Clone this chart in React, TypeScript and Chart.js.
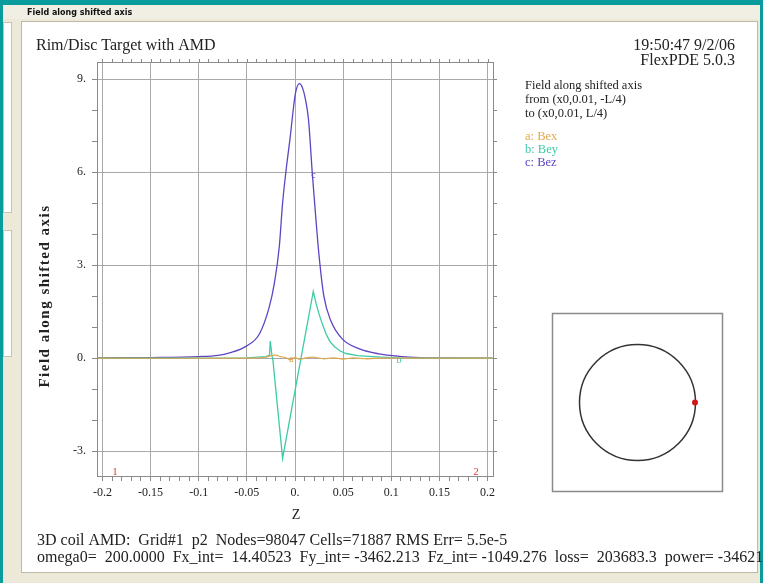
import React, { useEffect, useRef } from "react";
import { Chart, registerables } from "chart.js";

Chart.register(...registerables);

// ---- data ----
const zBez = [-0.205, -0.15, -0.1, -0.08, -0.068, -0.051, -0.037, -0.027, -0.0215, -0.0163, -0.0129, -0.0093, -0.0049, -0.0015, 0.0005, 0.0045, 0.008, 0.0105, 0.014, 0.018, 0.0218, 0.025, 0.03, 0.037, 0.049, 0.067, 0.087, 0.108, 0.13, 0.16, 0.205];
const bez = [0.01, 0.02, 0.05, 0.09, 0.17, 0.38, 0.78, 1.62, 2.4, 3.6, 5.0, 6.05, 7.15, 8.1, 8.55, 8.85, 8.7, 8.4, 7.7, 5.95, 4.45, 3.3, 2.0, 1.22, 0.62, 0.3, 0.14, 0.06, 0.02, 0.01, 0.0];

const zBey = [-0.205, -0.1, -0.05, -0.03, -0.0265, -0.0257, -0.024, -0.023, -0.0129, 0.019, 0.022, 0.025, 0.029, 0.032, 0.036, 0.041, 0.047, 0.053, 0.065, 0.08, 0.105, 0.15, 0.205];
const bey = [0.0, 0.0, 0.01, 0.05, 0.1, 0.55, 0.1, -0.05, -3.23, 2.15, 1.75, 1.42, 1.05, 0.8, 0.55, 0.37, 0.23, 0.15, 0.08, 0.05, 0.01, 0.0, 0.0];

const zBex = [-0.205, -0.05, -0.03, -0.025, -0.02, -0.015, -0.01, -0.005, 0.0, 0.005, 0.01, 0.02, 0.03, 0.04, 0.05, 0.06, 0.075, 0.09, 0.205];
const bex = [0.0, 0.0, 0.03, 0.08, 0.1, 0.05, 0.02, -0.05, 0.02, -0.04, 0.0, 0.03, -0.02, 0.01, -0.03, 0.01, -0.02, 0.0, 0.0];

const xTickLabels = ["-0.2", "-0.15", "-0.1", "-0.05", "0.", "0.05", "0.1", "0.15", "0.2"];
const yTickLabels = ["-3.", "0.", "3.", "6.", "9."];

const seriesNames = ["a: Bex", "b: Bey", "c: Bez"];
const BEX_C = "#E2A84C";
const BEY_C = "#3DCBA6";
const BEZ_C = "#6044C4";

const SERIF = "'Liberation Serif', 'Times New Roman', serif";

const decorPlugin = {
  id: "decor",
  beforeDraw(chart: any) {
    const c = chart.ctx;
    const W = chart.width, H = chart.height;
    c.save();
    c.fillStyle = "#0A9C9C";
    c.fillRect(0, 0, W, H);
    c.fillStyle = "#ECE9D8";
    c.fillRect(3, 5, W - 6, H - 5);
    c.fillStyle = "#F1EFE4";
    c.fillRect(3, 5, W - 6, 14);
    c.fillStyle = "#FFFFFF";
    c.fillRect(3, 22, 8, 190);
    c.fillRect(3, 230, 8, 126);
    c.strokeStyle = "#C8C4B4";
    c.lineWidth = 1;
    c.strokeRect(3.5, 22.5, 8, 190);
    c.strokeRect(3.5, 230.5, 8, 126);
    c.fillStyle = "#FFFFFF";
    c.fillRect(22, 22, W - 22 - 6, 550);
    c.strokeStyle = "#BDB9A8";
    c.strokeRect(21.5, 21.5, W - 22 - 5, 551);
    c.fillStyle = "#111";
    c.font = "bold 8px 'DejaVu Sans', sans-serif";
    c.textBaseline = "middle";
    c.textAlign = "left";
    c.fillText("Field along shifted axis", 27, 13);
    c.restore();
  },
  afterDraw(chart: any) {
    const c = chart.ctx;
    const a = chart.chartArea;
    const xs = chart.scales.x;
    const ys = chart.scales.y;
    c.save();
    c.strokeStyle = "#8A8A8A";
    c.lineWidth = 1;
    c.strokeRect(Math.round(a.left) + 0.5, Math.round(a.top) + 0.5, Math.round(a.right - a.left), Math.round(a.bottom - a.top));
    c.beginPath();
    for (let i = -20; i <= 20; i++) {
      const px = Math.round(xs.getPixelForValue(i / 100)) + 0.5;
      c.moveTo(px, a.top);
      c.lineTo(px, a.top - 3);
    }
    for (let v = -3; v <= 9; v++) {
      const py = Math.round(ys.getPixelForValue(v)) + 0.5;
      c.moveTo(a.right, py);
      c.lineTo(a.right + 4, py);
    }
    c.stroke();

    c.textBaseline = "middle";
    c.fillStyle = "#222";
    c.textAlign = "left";
    c.font = `16px ${SERIF}`;
    c.fillText("Rim/Disc Target with AMD", 36, 46);
    c.textAlign = "right";
    c.fillText("19:50:47 9/2/06", 735, 46);
    c.fillText("FlexPDE 5.0.3", 735, 61);

    c.textAlign = "left";
    c.font = `12.5px ${SERIF}`;
    c.fillStyle = "#222";
    c.fillText("Field along shifted axis", 525, 86);
    c.fillText("from (x0,0.01, -L/4)", 525, 100);
    c.fillText("to (x0,0.01, L/4)", 525, 114);
    const lc = [BEX_C, BEY_C, BEZ_C];
    seriesNames.forEach((n, i) => {
      c.fillStyle = lc[i];
      c.fillText(n, 525, 137 + i * 13);
    });

    c.font = `10px ${SERIF}`;
    c.textAlign = "center";
    c.fillStyle = BEZ_C;
    c.fillText("c", xs.getPixelForValue(0.0193), ys.getPixelForValue(5.9));
    c.fillStyle = BEY_C;
    c.fillText("b", xs.getPixelForValue(0.108), ys.getPixelForValue(-0.06));
    c.fillStyle = BEX_C;
    c.fillText("a", xs.getPixelForValue(-0.004), ys.getPixelForValue(-0.04));

    c.fillStyle = "#E03A3A";
    c.font = `11px ${SERIF}`;
    c.fillText("1", 115, 472);
    c.fillText("2", 476, 472);

    c.fillStyle = "#222";
    c.font = `14px ${SERIF}`;
    c.fillText("Z", 296, 515);
    c.save();
    c.translate(45, 296);
    c.rotate(-Math.PI / 2);
    c.font = `bold 15px ${SERIF}`;
    (c as any).letterSpacing = "1.5px";
    c.textAlign = "center";
    c.fillText("Field along shifted axis", 0, 0);
    c.restore();

    c.textAlign = "left";
    c.fillStyle = "#222";
    c.font = `16px ${SERIF}`;
    c.fillText("3D coil AMD:  Grid#1  p2  Nodes=98047 Cells=71887 RMS Err= 5.5e-5", 37, 541);
    c.fillText("omega0=  200.0000  Fx_int=  14.40523  Fy_int= -3462.213  Fz_int= -1049.276  loss=  203683.3  power= -34621", 37, 558);

    c.strokeStyle = "#8A8A8A";
    c.lineWidth = 1.5;
    c.strokeRect(552.5, 313.5, 170, 178);
    c.strokeStyle = "#333";
    c.lineWidth = 1.5;
    c.beginPath();
    c.arc(637.5, 402.5, 58, 0, Math.PI * 2);
    c.stroke();
    c.fillStyle = "#D01818";
    c.beginPath();
    c.arc(695, 402.5, 3, 0, Math.PI * 2);
    c.fill();
    c.restore();
  },
};

export default function App() {
  const ref = useRef<HTMLCanvasElement | null>(null);
  useEffect(() => {
    if (!ref.current) return;
    const mk = (zs: number[], vs: number[]) => zs.map((z, i) => ({ x: z, y: vs[i] }));
    const chart = new Chart(ref.current, {
      type: "line",
      data: {
        datasets: [
          { label: "Bex", data: mk(zBex, bex), borderColor: BEX_C, borderWidth: 1.2, pointRadius: 0, tension: 0.3 },
          { label: "Bey", data: mk(zBey, bey), borderColor: BEY_C, borderWidth: 1.3, pointRadius: 0, tension: 0 },
          { label: "Bez", data: mk(zBez, bez), borderColor: BEZ_C, borderWidth: 1.3, pointRadius: 0, cubicInterpolationMode: "monotone" },
        ],
      } as any,
      options: {
        animation: false,
        responsive: false,
        devicePixelRatio: 1,
        layout: { padding: { left: 37, right: 270, top: 62, bottom: 57 } },
        plugins: { legend: { display: false }, tooltip: { enabled: false } },
        scales: {
          x: {
            type: "linear",
            min: -0.2057,
            max: 0.2057,
            afterBuildTicks: (s: any) => {
              const t = [];
              for (let i = -20; i <= 20; i++) t.push({ value: i / 100 });
              s.ticks = t;
            },
            afterFit: (s: any) => { s.height = 50; },
            ticks: {
              autoSkip: false,
              maxRotation: 0,
              minRotation: 0,
              padding: 5,
              color: "#222",
              font: { family: SERIF, size: 12 },
              callback: (v: any) => {
                const i = Math.round(Number(v) * 100);
                return i % 5 === 0 ? xTickLabels[i / 5 + 4] : "";
              },
            },
            grid: {
              color: (ctx: any) => (Math.round(ctx.tick.value * 100) % 5 === 0 ? "#A9A9A9" : "rgba(0,0,0,0)"),
              tickColor: "#8A8A8A",
              tickLength: 5,
              lineWidth: 1,
            },
            border: { display: true, color: "#8A8A8A" },
          },
          y: {
            type: "linear",
            min: -3.8,
            max: 9.55,
            afterBuildTicks: (s: any) => {
              const t = [];
              for (let v = -3; v <= 9; v++) t.push({ value: v });
              s.ticks = t;
            },
            afterFit: (s: any) => { s.width = 60; },
            ticks: {
              autoSkip: false,
              padding: 6,
              color: "#222",
              font: { family: SERIF, size: 12 },
              callback: (v: any) => {
                const n = Math.round(Number(v));
                return n % 3 === 0 ? yTickLabels[(n + 3) / 3] : "";
              },
            },
            grid: {
              color: (ctx: any) => (Math.round(ctx.tick.value) % 3 === 0 ? "#A9A9A9" : "rgba(0,0,0,0)"),
              tickColor: "#8A8A8A",
              tickLength: 5,
              lineWidth: 1,
            },
            border: { display: true, color: "#8A8A8A" },
          },
        },
      } as any,
      plugins: [decorPlugin],
    });
    return () => chart.destroy();
  }, []);
  return (
    <div style={{ position: "absolute", left: 0, top: 0, width: 763, height: 583, overflow: "hidden" }}>
      <canvas ref={ref} width={763} height={583} style={{ display: "block", width: 763, height: 583 }} />
    </div>
  );
}
